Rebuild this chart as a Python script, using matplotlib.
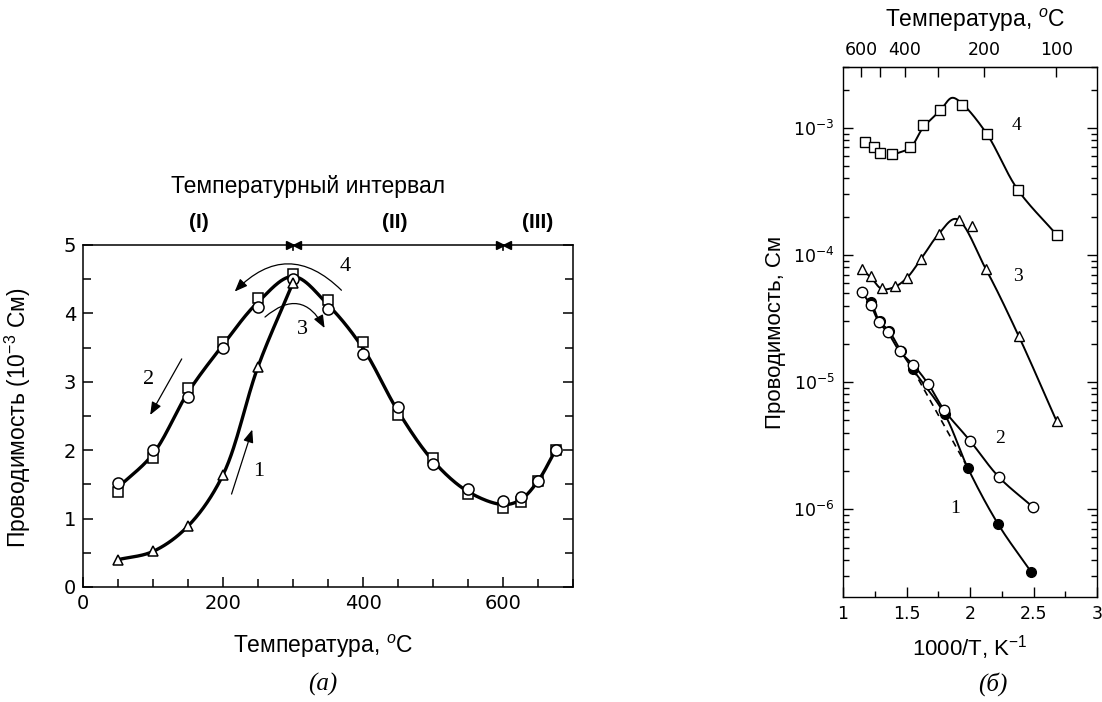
import numpy as np
import matplotlib
matplotlib.use("Agg")
import matplotlib.pyplot as plt
from matplotlib.patches import FancyArrowPatch
from matplotlib.ticker import MultipleLocator, FixedLocator, LogLocator, NullFormatter

plt.rcParams["font.family"] = ["Liberation Sans", "DejaVu Sans"]
plt.rcParams["mathtext.fontset"] = "custom"
plt.rcParams["mathtext.rm"] = "Liberation Sans"
plt.rcParams["mathtext.it"] = "Liberation Sans:italic"
plt.rcParams["mathtext.bf"] = "Liberation Sans:bold"

# ---------------- panel (a): conductance vs temperature ----------------
temp_c = [50, 100, 150, 200, 250, 300, 350, 400, 450, 500, 550, 600, 625, 650, 675]
g_circles = [1.52, 2.00, 2.78, 3.50, 4.10, 4.50, 4.06, 3.40, 2.63, 1.80, 1.43, 1.26, 1.31, 1.55, 2.00]
g_squares = [1.39, 1.89, 2.91, 3.58, 4.23, 4.58, 4.19, 3.58, 2.51, 1.89, 1.36, 1.15, 1.24, 1.55, 2.00]

temp_heat = [50, 100, 150, 200, 250, 300]
g_triangles = [0.40, 0.52, 0.89, 1.64, 3.22, 4.45]

interval_bounds = [300, 600]
interval_names = ["(I)", "(II)", "(III)"]
interval_centres = [165, 445, 650]

# ---------------- panel (б): conductance vs 1000/T ----------------
c4_x = [1.176, 1.241, 1.294, 1.386, 1.530, 1.630, 1.766, 1.937, 2.134, 2.375, 2.685]
c4_y = [7.8e-4, 7.0e-4, 6.3e-4, 6.2e-4, 7.0e-4, 1.06e-3, 1.37e-3, 1.52e-3, 8.9e-4, 3.27e-4, 1.43e-4]
c4_line_x = [1.386, 1.530, 1.630, 1.766, 1.858, 1.937, 2.134, 2.375, 2.685]
c4_line_y = [6.1e-4, 7.0e-4, 1.0e-3, 1.37e-3, 1.72e-3, 1.55e-3, 8.9e-4, 3.27e-4, 1.43e-4]

c3_x = [1.152, 1.223, 1.306, 1.406, 1.503, 1.615, 1.753, 1.911, 2.016, 2.126, 2.382, 2.683]
c3_y = [7.7e-5, 6.8e-5, 5.5e-5, 5.65e-5, 6.6e-5, 9.3e-5, 1.46e-4, 1.87e-4, 1.69e-4, 7.7e-5, 2.32e-5, 4.9e-6]
c3_line_x = [1.152, 1.223, 1.306, 1.406, 1.503, 1.615, 1.753, 1.890, 2.126, 2.382, 2.683]
c3_line_y = [7.7e-5, 6.6e-5, 5.4e-5, 5.6e-5, 6.6e-5, 9.3e-5, 1.46e-4, 1.92e-4, 7.7e-5, 2.32e-5, 4.9e-6]

c2_x = [1.149, 1.217, 1.283, 1.353, 1.445, 1.555, 1.673, 1.798, 2.000, 2.230, 2.497]
c2_y = [5.07e-5, 4.06e-5, 2.95e-5, 2.46e-5, 1.75e-5, 1.36e-5, 9.6e-6, 6.0e-6, 3.46e-6, 1.78e-6, 1.04e-6]

c1_x = [1.223, 1.288, 1.361, 1.453, 1.550, 1.800, 1.982, 2.223, 2.484]
c1_y = [4.3e-5, 3.0e-5, 2.54e-5, 1.77e-5, 1.26e-5, 5.6e-6, 2.12e-6, 7.6e-7, 3.19e-7]

dash_x = [1.550, 1.982]
dash_y = [1.26e-5, 2.12e-6]

top_temps = [600, 500, 400, 300, 200, 100]
top_labels = ["600", "", "400", "", "200", "100"]

W, H = 1102, 702


def smooth_path(x, y, sx=1.0, sy=1.0, n=30):
    """Centripetal Catmull-Rom curve through the given knots."""
    P = np.column_stack([np.asarray(x, float) * sx, np.asarray(y, float) * sy])
    P = np.vstack([2 * P[0] - P[1], P, 2 * P[-1] - P[-2]])
    pts = []
    for i in range(1, len(P) - 2):
        p0, p1, p2, p3 = P[i - 1], P[i], P[i + 1], P[i + 2]
        t0 = 0.0
        t1 = t0 + np.linalg.norm(p1 - p0) ** 0.5
        t2 = t1 + np.linalg.norm(p2 - p1) ** 0.5
        t3 = t2 + np.linalg.norm(p3 - p2) ** 0.5
        t = np.linspace(t1, t2, n)[:, None]
        a1 = (t1 - t) / (t1 - t0) * p0 + (t - t0) / (t1 - t0) * p1
        a2 = (t2 - t) / (t2 - t1) * p1 + (t - t1) / (t2 - t1) * p2
        a3 = (t3 - t) / (t3 - t2) * p2 + (t - t2) / (t3 - t2) * p3
        b1 = (t2 - t) / (t2 - t0) * a1 + (t - t0) / (t2 - t0) * a2
        b2 = (t3 - t) / (t3 - t1) * a2 + (t - t1) / (t3 - t1) * a3
        c = (t2 - t) / (t2 - t1) * b1 + (t - t1) / (t2 - t1) * b2
        pts.append(c)
    C = np.vstack(pts)
    return C[:, 0] / sx, C[:, 1] / sy


def fx(px):
    return px / W


def fy(py):
    return 1 - py / H


fig = plt.figure(figsize=(W / 100, H / 100), dpi=100)
fig.patch.set_facecolor("white")

tick_font = ["Liberation Sans Narrow", "DejaVu Sans Condensed", "DejaVu Sans"]
num_font = ["Liberation Serif", "DejaVu Serif"]

# ======================= panel (a) =======================
ax = fig.add_axes([fx(83), fy(587), fx(573) - fx(83), fy(245) - fy(587)])
ax.set_xlim(0, 700)
ax.set_ylim(0, 5)

g_mean = (np.array(g_circles) + np.array(g_squares)) / 2
lx, ly = smooth_path(temp_c, g_mean, sx=0.7, sy=68.5)
ax.plot(lx, ly, color="black", lw=2.4, solid_capstyle="round", zorder=2)
hx, hy = smooth_path(temp_heat, g_triangles, sx=0.7, sy=68.5)
ax.plot(hx, hy, color="black", lw=2.4, solid_capstyle="round", zorder=2)

mk = dict(ls="none", mfc="white", mec="black", mew=1.1, zorder=3, clip_on=False)
ax.plot(temp_c, g_squares, marker="s", ms=7.5, **mk)
ax.plot(temp_c, g_circles, marker="o", ms=8, **mk)
ax.plot(temp_heat, g_triangles, marker="^", ms=7, **mk)

ax.xaxis.set_major_locator(FixedLocator([0, 200, 400, 600]))
ax.xaxis.set_minor_locator(MultipleLocator(50))
ax.yaxis.set_major_locator(MultipleLocator(1))
ax.yaxis.set_minor_locator(MultipleLocator(0.5))
ax.tick_params(which="both", direction="in", left=True, right=True, top=False,
               bottom=True, width=1.1)
ax.tick_params(which="major", length=7, labelsize=14, pad=5)
ax.tick_params(which="minor", length=6)
for lab in ax.get_xticklabels() + ax.get_yticklabels():
    lab.set_family(tick_font)
for s in ax.spines.values():
    s.set_linewidth(1.1)

# interval boundary markers on the top line
for b in interval_bounds:
    ax.plot([b - 5], [5], marker=">", ms=6, color="black", clip_on=False, zorder=4)
    ax.plot([b + 5], [5], marker="<", ms=6, color="black", clip_on=False, zorder=4)
    ax.plot([b, b], [4.93, 5.0], color="black", lw=1.2, clip_on=False)
for name, xc in zip(interval_names, interval_centres):
    ax.text(xc, 5.33, name, ha="center", va="center", fontsize=15,
            fontweight="bold")
ax.text(322, 5.85, "Температурный интервал", ha="center", va="center",
        fontsize=16.5)

# direction arrows and curve numbers
arr = dict(arrowstyle="-|>,head_length=0.55,head_width=0.22", color="black",
           lw=0.9, mutation_scale=14)
ax.add_patch(FancyArrowPatch((372, 4.31), (214, 4.29),
                             connectionstyle="arc3,rad=0.52", **arr))
ax.add_patch(FancyArrowPatch((257, 3.92), (347, 3.75),
                             connectionstyle="arc3,rad=-0.65", **arr))
ax.add_patch(FancyArrowPatch((143, 3.37), (94, 2.48), **arr))
ax.add_patch(FancyArrowPatch((211, 1.32), (243, 2.34), **arr))
ax.text(375, 4.68, "4", fontsize=16, ha="center", va="center", family=num_font)
ax.text(314, 3.77, "3", fontsize=16, ha="center", va="center", family=num_font)
ax.text(94, 3.03, "2", fontsize=16, ha="center", va="center", family=num_font)
ax.text(251, 1.69, "1", fontsize=16, ha="center", va="center", family=num_font)

fig.text(fx(18), fy(418), "Проводимость (10$^{-3}$ См)", rotation=90,
         ha="center", va="center", fontsize=16.5)
fig.text(fx(323), fy(646), "Температура, $^{o}$C", ha="center", va="center",
         fontsize=16.5)
fig.text(fx(323), fy(684), "(а)", ha="center", va="center", fontsize=18,
         style="italic", family=["Liberation Serif", "DejaVu Serif"])

# ======================= panel (б) =======================
bx = fig.add_axes([fx(843), fy(597), fx(1097) - fx(843), fy(67) - fy(597)])
bx.set_yscale("log")
bx.set_xlim(1, 3)
bx.set_ylim(10 ** -6.69, 10 ** -2.522)


def log_path(x, y):
    px_, py_ = smooth_path(x, np.log10(y), sx=127, sy=127)
    return px_, 10 ** py_


for lxs, lys in [(c4_line_x, c4_line_y), (c3_line_x, c3_line_y), (c2_x, c2_y),
                 (c1_x, c1_y)]:
    px_, py_ = log_path(lxs, lys)
    bx.plot(px_, py_, color="black", lw=1.4, zorder=2)
bx.plot(dash_x, dash_y, color="black", lw=1.2, ls=(0, (4, 3)), zorder=2)

mk2 = dict(ls="none", mec="black", mew=1.0, zorder=3)
bx.plot(c4_x, c4_y, marker="s", ms=7, mfc="white", **mk2)
bx.plot(c3_x, c3_y, marker="^", ms=7, mfc="white", **mk2)
bx.plot(c1_x, c1_y, marker="o", ms=7, mfc="black", **mk2)
bx.plot(c2_x, c2_y, marker="o", ms=7.5, mfc="white", **mk2)

bx.xaxis.set_major_locator(MultipleLocator(0.5))
bx.xaxis.set_minor_locator(MultipleLocator(0.25))
bx.yaxis.set_major_locator(LogLocator(base=10, numticks=10))
bx.yaxis.set_minor_locator(LogLocator(base=10, subs=np.arange(2, 10) * 1.0,
                                      numticks=20))
bx.yaxis.set_minor_formatter(NullFormatter())
bx.xaxis.set_major_formatter(matplotlib.ticker.FuncFormatter(
    lambda v, p: f"{v:g}"))
bx.tick_params(which="both", direction="in", left=True, right=True, top=False,
               width=1.0)
bx.tick_params(which="major", length=7, labelsize=12.5, pad=6)
bx.tick_params(which="minor", length=4)
for lab in bx.get_xticklabels() + bx.get_yticklabels():
    lab.set_family(tick_font)
for s in bx.spines.values():
    s.set_linewidth(1.0)

top = bx.secondary_xaxis("top", functions=(lambda x: 1000 / np.asarray(x) - 273,
                                           lambda t: 1000 / (np.asarray(t) + 273)))
top.set_xticks(top_temps)
top.set_xticklabels(top_labels)
top.tick_params(direction="in", length=7, width=1.0, labelsize=12.5, pad=6)
for lab in top.get_xticklabels():
    lab.set_family(tick_font)

bx.text(2.37, 1.05e-3, "4", fontsize=14, ha="center", va="center", family=num_font)
bx.text(2.38, 6.8e-5, "3", fontsize=14, ha="center", va="center", family=num_font)
bx.text(2.24, 3.6e-6, "2", fontsize=14, ha="center", va="center", family=num_font)
bx.text(1.88, 1.02e-6, "1", fontsize=14, ha="center", va="center", family=num_font)

fig.text(fx(775), fy(332), "Проводимость, См", rotation=90, ha="center",
         va="center", fontsize=16)
fig.text(fx(975), fy(20), "Температура, $^{o}$C", ha="center", va="center",
         fontsize=16.5)
fig.text(fx(970), fy(648), "1000/T, K$^{-1}$", ha="center", va="center",
         fontsize=16)
fig.text(fx(993), fy(684), "(б)", ha="center", va="center", fontsize=18,
         style="italic", family=["Liberation Serif", "DejaVu Serif"])

fig.savefig("out.png", dpi=100, facecolor="white")
